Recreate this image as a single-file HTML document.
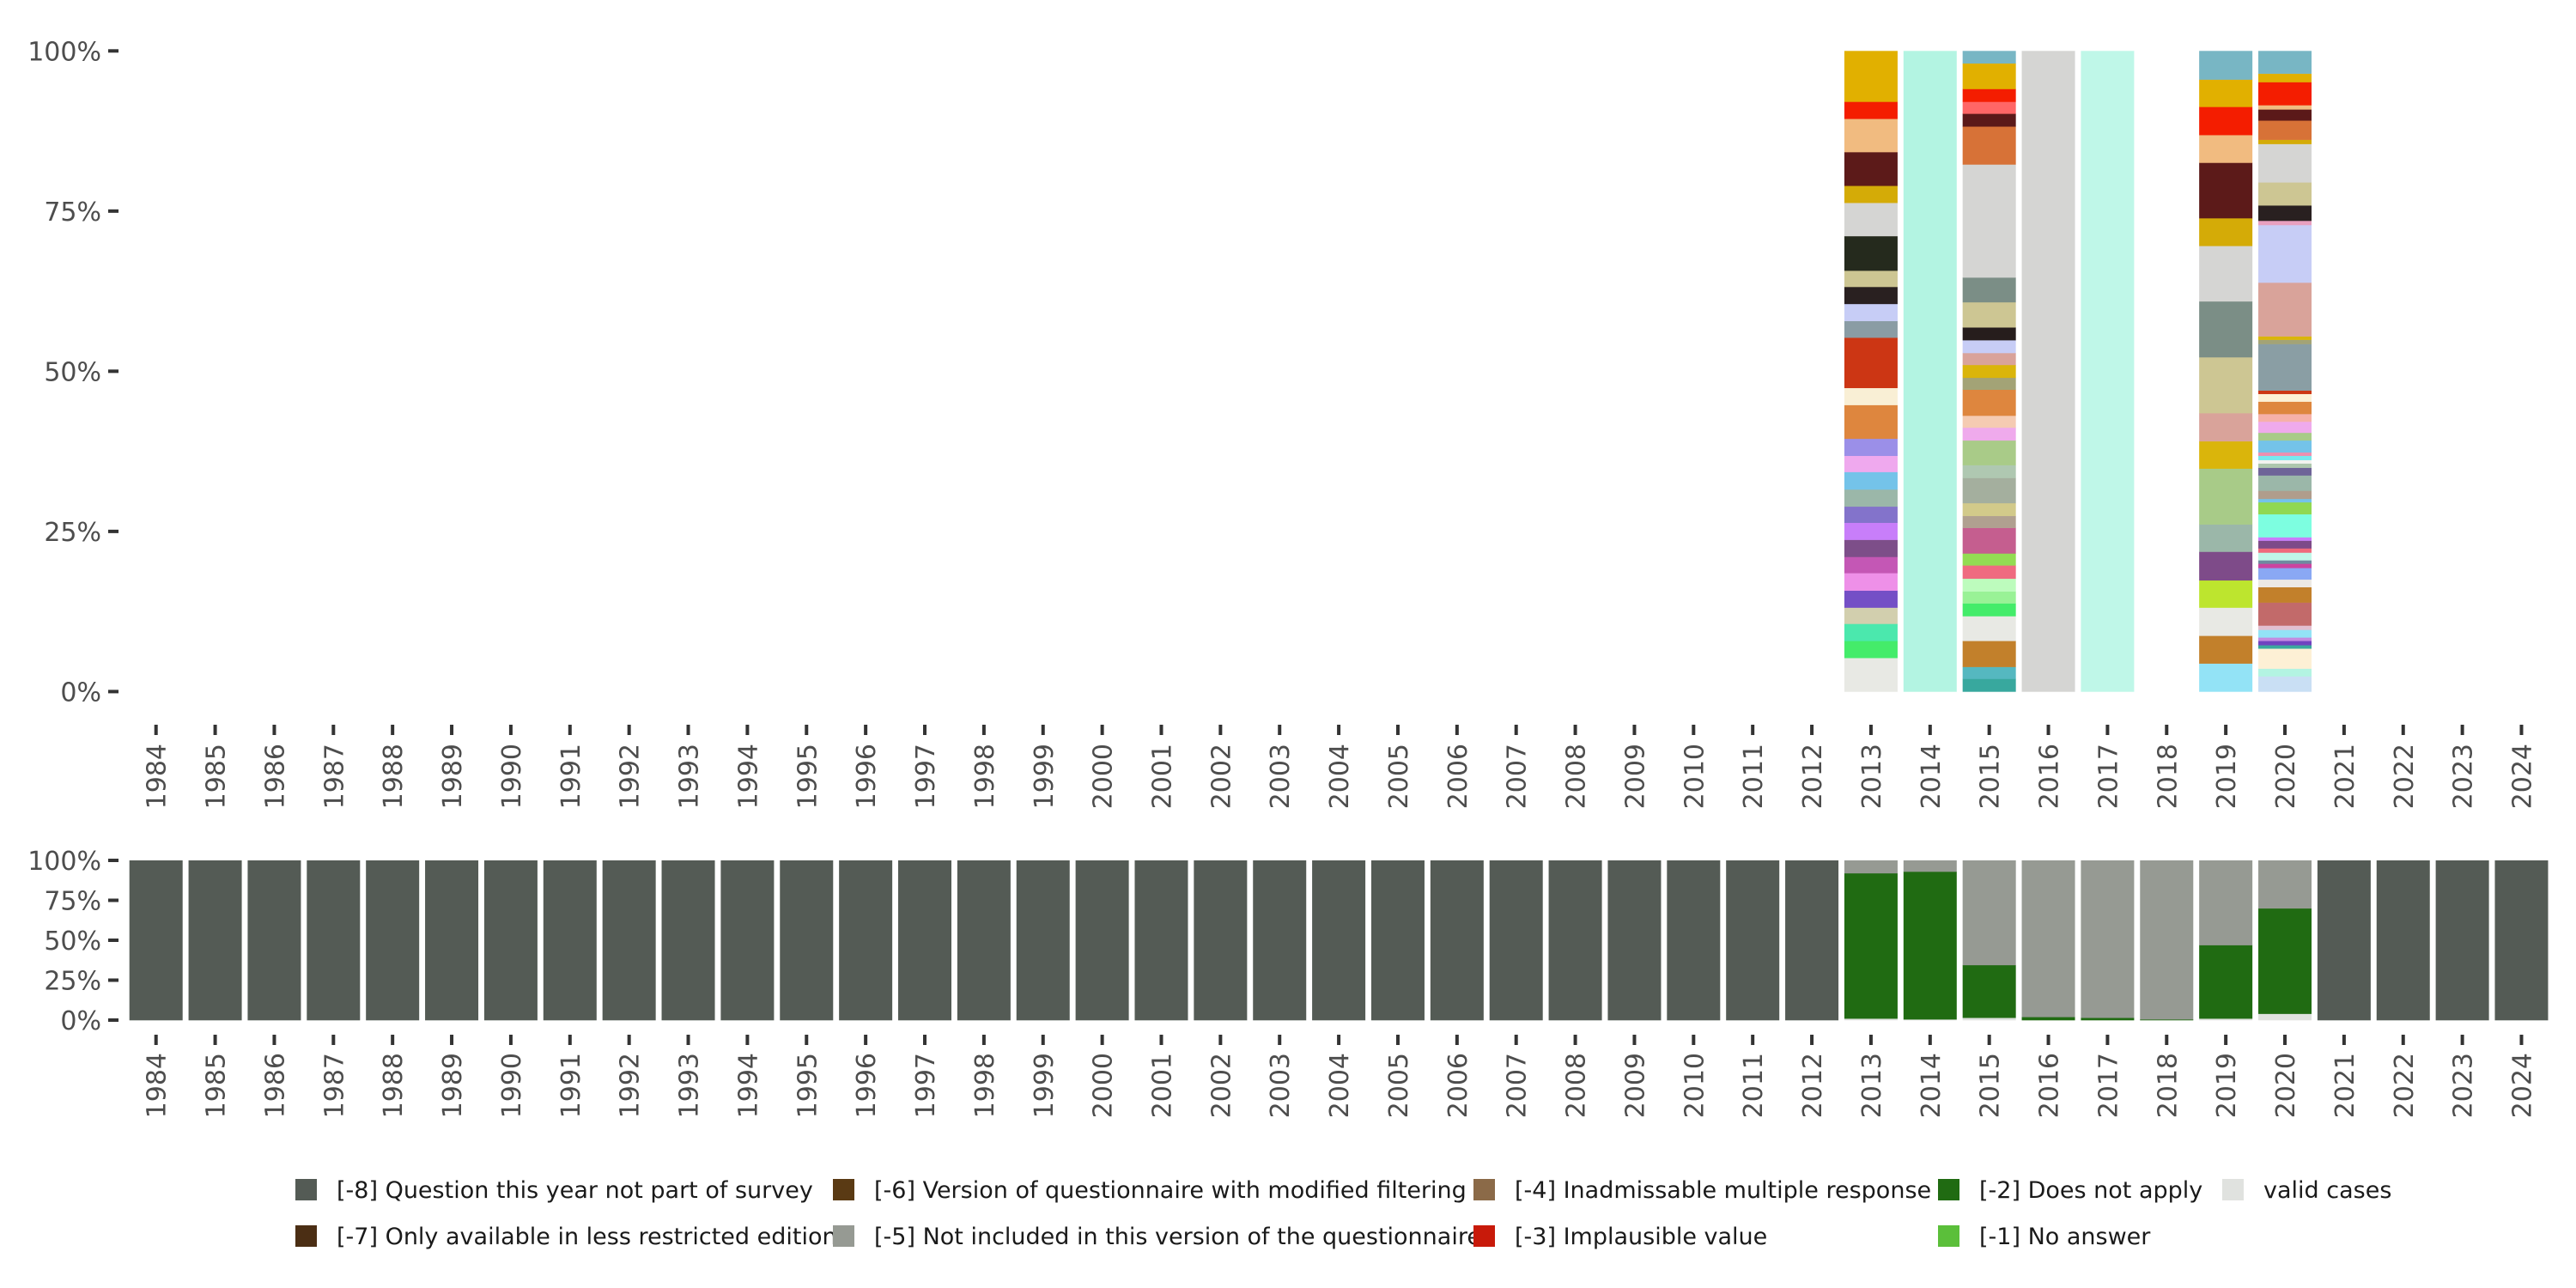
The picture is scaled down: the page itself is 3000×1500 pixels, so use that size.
<!DOCTYPE html>
<html><head><meta charset="utf-8"><style>
html,body{margin:0;padding:0;background:#fff;}
svg{display:block;font-family:"DejaVu Sans","Liberation Sans",sans-serif;}
</style></head><body>
<svg id="chart" width="3000" height="1500" viewBox="0 0 3000 1500" xmlns="http://www.w3.org/2000/svg"></svg>
<script>
const years = [];
for (let y = 1984; y <= 2024; y++) years.push(y);
const yTickValues = [0, 25, 50, 75, 100];
const yTickLabels = ["0%", "25%", "50%", "75%", "100%"];

// top panel: valid-case distributions, bottom to top
const top2013Values = [79,40,40,38,40,41,38,40,40,38,40,41,38,40,79,40,118,39,40,40,38,81,78,40,79,78,40,119];
const top2013Colors = ["#e8e9e4","#44ec6a","#4be8ad","#d2cfae","#744fc6","#ee90e8","#c457b5","#7d4e89","#c87efa","#8373cb","#9bb7a9","#74c3e9","#efa9ee","#9b8fe8","#de863e","#f9efd5","#cc3614","#8a9ca4","#c7cdf6","#292020","#cdc693","#252a1d","#d5d5d3","#d4ab07","#5c1a19","#f1bb80","#f41d00","#e1b000"];
const top2014Values = [100];
const top2014Colors = ["#b3f4e2"];
const top2015Values = [30,28,61,58,30,28,30,31,28,60,28,30,59,30,58,30,28,61,28,30,28,30,30,59,58,265,89,30,28,30,60,29];
const top2015Colors = ["#38a89e","#55b8c0","#c2802b","#e8e9e4","#44ec6a","#99f296","#bdfcbd","#ef6b80","#93dc53","#c55e8f","#b0a090","#d2ca8a","#a4af9e","#afc8b1","#a9cb88","#efaaec","#f5cbb2","#de863e","#a3a376","#dab50b","#d9a39a","#c7cdf6","#261d1c","#cdc693","#7b8e86","#d5d5d3","#d77237","#5b1919","#ff6666","#f41d00","#e1b000","#78b6c4"];
const top2016Values = [100];
const top2016Colors = ["#d5d5d3"];
const top2017Values = [100];
const top2017Colors = ["#bff7e8"];
const top2019Values = [66,65,66,64,67,64,131,64,66,131,131,130,65,130,65,66,64,67];
const top2019Colors = ["#93e3f6","#c2802b","#e8e9e4","#bde52e","#7e4b89","#9bb7a9","#a8cb88","#dab50b","#d9a39a","#cdc693","#7b8e86","#d5d5d3","#d4ab07","#5c1a19","#f1bb80","#f41d00","#e1b000","#78b6c4"];
const top2020Values = [36,18,47,8,10,8,18,10,54,36,18,27,10,8,18,10,18,8,54,28,8,19,36,18,10,8,10,8,28,18,26,18,29,18,8,109,10,8,126,135,10,36,54,90,10,45,26,10,54,20,53];
const top2020Colors = ["#c9dff4","#b3f4e2","#fdf0d5","#3aa89e","#7043c0","#c28be0","#93e3f6","#e2bfd0","#c26a6a","#c2802b","#ece9e4","#8aa8f4","#cc44a0","#6f8aa0","#bff7e8","#f06a7c","#7d4a89","#c87efa","#7dfee0","#90d851","#74c3e9","#b09d8c","#9bb7a9","#6e6498","#aec7ae","#f3f3f0","#78e9ef","#ed90b0","#74c3e9","#a8cb88","#efaaec","#f6b0a8","#de863e","#fcf0d5","#cc3614","#8a9ea4","#a3a376","#dab50b","#d9a39a","#c7cdf6","#e8a0c0","#292020","#cdc693","#d5d5d3","#d4ab07","#d77237","#5b1919","#f1bb80","#f41d00","#e1b000","#78b6c4"];
const topYears = [2013, 2014, 2015, 2016, 2017, 2019, 2020];
const topValues = [top2013Values, top2014Values, top2015Values, top2016Values, top2017Values, top2019Values, top2020Values];
const topColors = [top2013Colors, top2014Colors, top2015Colors, top2016Colors, top2017Colors, top2019Colors, top2020Colors];

// bottom panel: missing-code shares (%) per year, stacked bottom to top
const bottomCategories = ["valid cases","[-1] No answer","[-2] Does not apply","[-3] Implausible value","[-4] Inadmissable multiple response","[-5] Not included in this version of the questionnaire","[-6] Version of questionnaire with modified filtering","[-7] Only available in less restricted edition","[-8] Question this year not part of survey"];
const bottomColors = ["#e0e2df","#5bbf3a","#206b12","#c81a0a","#8b6a48","#969a93","#5a3a14","#4b2e14","#545b55"];
const validShare = years.map(y => ({2013:1,2014:0.5,2015:1.5,2019:1,2020:4})[y] || 0);
const noAnswerShare = years.map(y => 0);
const notApplyShare = years.map(y => ({2013:91,2014:92.5,2015:33,2016:2,2017:1.5,2018:0.5,2019:46,2020:66})[y] || 0);
const implausibleShare = years.map(y => 0);
const inadmissableShare = years.map(y => 0);
const notIncludedShare = years.map(y => ({2013:8,2014:7,2015:65.5,2016:98,2017:98.5,2018:99.5,2019:53,2020:30})[y] || 0);
const modFilterShare = years.map(y => 0);
const restrictedShare = years.map(y => 0);
const notPartShare = years.map(y => (y >= 2013 && y <= 2020) ? 0 : 100);
const bottomSeries = [validShare, noAnswerShare, notApplyShare, implausibleShare, inadmissableShare, notIncludedShare, modFilterShare, restrictedShare, notPartShare];

// legend order
const legendLabels = ["[-8] Question this year not part of survey","[-7] Only available in less restricted edition","[-6] Version of questionnaire with modified filtering","[-5] Not included in this version of the questionnaire","[-4] Inadmissable multiple response","[-3] Implausible value","[-2] Does not apply","[-1] No answer","valid cases"];
const legendColors = ["#545b55","#4b2e14","#5a3a14","#969a93","#8b6a48","#c81a0a","#206b12","#5bbf3a","#e0e2df"];

const NS = "http://www.w3.org/2000/svg";
const svg = document.getElementById("chart");
function mk(tag, attrs, parent) {
  const e = document.createElementNS(NS, tag);
  for (const k in attrs) e.setAttribute(k, attrs[k]);
  (parent || svg).appendChild(e);
  return e;
}
const x0 = 181.7, step = 68.87, barW = 62;
function xScale(year) { return x0 + (year - 1984) * step; }
function yTop(v) { return 805.4 - (v / 100) * (805.4 - 59.3); }
function yBot(v) { return 1188 - (v / 100) * (1188 - 1002); }

function drawAxes(yfun, tickY, labelY, prefix) {
  const g = mk("g", {});
  
  
  yTickValues.forEach((v, i) => {
    const t = mk("rect", {x: 126, y: yfun(v) - 2, width: 12, height: 4, fill: "#333"}, g);
    
    
    const l = mk("text", {x: 118, y: yfun(v) + 11, "text-anchor": "end", "font-size": 30, fill: "#4d4d4d"}, g);
    
    
    l.textContent = yTickLabels[i];
  });
  years.forEach(y => {
    const xc = xScale(y);
    const t = mk("rect", {x: xc - 2, y: tickY, width: 4, height: 12, fill: "#333"}, g);
    
    
    const l = mk("text", {x: 0, y: 0, "text-anchor": "end", "font-size": 30, fill: "#4d4d4d",
      transform: "translate(" + (xc + 11) + "," + labelY + ") rotate(-90)"}, g);
    
    
    l.textContent = y;
  });
}

// top panel bars
const gTop = mk("g", {});


topYears.forEach((yr, i) => {
  const vals = topValues[i];
  const total = vals.reduce((a, b) => a + b, 0);
  let cum = 0;
  vals.forEach((v, j) => {
    const y1 = yTop((cum + v) / total * 100), y2 = yTop(cum / total * 100);
    const r = mk("rect", {x: xScale(yr) - barW / 2, y: y1, width: barW, height: Math.max(0, y2 - y1 + 0.3), fill: topColors[i][j]}, gTop);
    
    
    cum += v;
  });
});
drawAxes(yTop, 844, 866, "top");

// bottom panel bars
const gBot = mk("g", {});


years.forEach((yr, i) => {
  let cum = 0;
  bottomSeries.forEach((s, c) => {
    const v = s[i];
    if (v <= 0) return;
    const y1 = yBot(cum + v), y2 = yBot(cum);
    const r = mk("rect", {x: xScale(yr) - barW / 2, y: y1, width: barW, height: y2 - y1 + 0.3, fill: bottomColors[c]}, gBot);
    
    
    cum += v;
  });
});
drawAxes(yBot, 1205, 1226, "bottom");

// legend
const legPos = [[344,1385],[344,1439],[970,1385],[970,1439],[1716,1385],[1716,1439],[2257,1385],[2257,1439],[2588,1385]];
const gLeg = mk("g", {});


legendLabels.forEach((lab, i) => {
  const [lx, ly] = legPos[i];
  const e = mk("g", {}, gLeg);
  
  
  mk("rect", {x: lx, y: ly - 12, width: 25, height: 25, fill: legendColors[i]}, e);
  const t = mk("text", {x: lx + 48, y: ly + 10, "font-size": 27, fill: "#1a1a1a"}, e);
  t.textContent = lab;
});
</script>
</body></html>
